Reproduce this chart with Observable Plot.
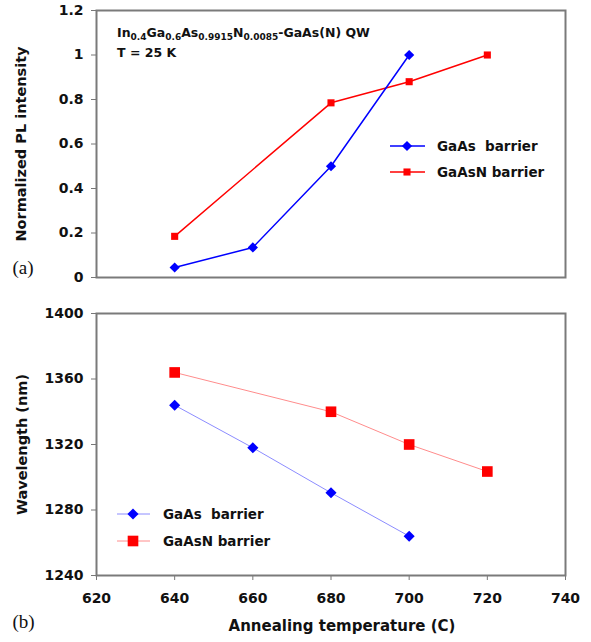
<!DOCTYPE html>
<html><head><meta charset="utf-8">
<script src="https://cdn.jsdelivr.net/npm/d3@7"></script>
<script src="https://cdn.jsdelivr.net/npm/@observablehq/plot@0.6"></script>
<style>body{margin:0;background:#fff;} #chart svg{display:block;}</style>
</head><body><div id="chart"></div>
<script>
// ---- data ----
const gaasTemp = [640, 660, 680, 700];
const gaasIntensity = [0.045, 0.135, 0.50, 1.0];
const gaasWavelength = [1344, 1318, 1290.5, 1264];
const gaasnTemp = [640, 680, 700, 720];
const gaasnIntensity = [0.185, 0.785, 0.88, 1.0];
const gaasnWavelength = [1364, 1340, 1320, 1303.5];
const xTicks = [620, 640, 660, 680, 700, 720, 740];
const intensityTicks = [0, 0.2, 0.4, 0.6, 0.8, 1, 1.2];
const wavelengthTicks = [1240, 1280, 1320, 1360, 1400];
const seriesNames = ["GaAs  barrier", "GaAsN barrier"];

const gaasTop = gaasTemp.map((t, i) => ({t, v: gaasIntensity[i]}));
const gaasnTop = gaasnTemp.map((t, i) => ({t, v: gaasnIntensity[i]}));
const gaasBot = gaasTemp.map((t, i) => ({t, v: gaasWavelength[i]}));
const gaasnBot = gaasnTemp.map((t, i) => ({t, v: gaasnWavelength[i]}));

const BLUE = "#0000ff", RED = "#ff0000";
const FONT = "DejaVu Sans";
const style = {fontFamily: FONT, fontWeight: "bold", fontSize: "14px", color: "#111", background: "#fff"};

const topPlot = Plot.plot({
  width: 591, height: 290,
  marginLeft: 96, marginRight: 26, marginTop: 10, marginBottom: 13,
  style,
  x: {domain: [620, 740], axis: null},
  y: {domain: [0, 1.2], axis: null},
  marks: [
    Plot.axisY({ticks: intensityTicks, tickSize: 5, tickPadding: 8, label: null, tickFormat: d => String(d), stroke: "#777"}),
    Plot.frame({stroke: "#7a7a7a", strokeWidth: 2}),
    Plot.line(gaasnTop, {x: "t", y: "v", stroke: RED, strokeWidth: 1.5}),
    Plot.line(gaasTop, {x: "t", y: "v", stroke: BLUE, strokeWidth: 1.5}),
    Plot.dot(gaasnTop, {x: "t", y: "v", symbol: "square", r: 4, fill: RED}),
    Plot.dot(gaasTop, {x: "t", y: "v", symbol: "diamond2", r: 4.6, fill: BLUE}),
    Plot.text(["Normalized PL intensity"], {text: d => d, frameAnchor: "left", textAnchor: "middle", dx: -75, rotate: -90, fontSize: 14.5}),
    Plot.text(["(a)"], {text: d => d, frameAnchor: "bottom-left", dx: -84, dy: -4, textAnchor: "start", fontFamily: "Liberation Serif", fontWeight: "normal", fontSize: 19})
  ]
});

const bottomPlot = Plot.plot({
  width: 591, height: 352,
  marginLeft: 96, marginRight: 26, marginTop: 23, marginBottom: 67,
  style,
  x: {domain: [620, 740], axis: null},
  y: {domain: [1240, 1400], axis: null},
  marks: [
    Plot.axisX({ticks: xTicks, tickSize: 5, tickPadding: 13, label: null, tickFormat: d => String(d), stroke: "#777"}),
    Plot.axisY({ticks: wavelengthTicks, tickSize: 5, tickPadding: 8, label: null, tickFormat: d => String(d), stroke: "#777"}),
    Plot.frame({stroke: "#7a7a7a", strokeWidth: 2}),
    Plot.line(gaasnBot, {x: "t", y: "v", stroke: "#ff8c8c", strokeWidth: 1}),
    Plot.line(gaasBot, {x: "t", y: "v", stroke: "#8c8cff", strokeWidth: 1}),
    Plot.dot(gaasnBot, {x: "t", y: "v", symbol: "square", r: 6, fill: RED}),
    Plot.dot(gaasBot, {x: "t", y: "v", symbol: "diamond2", r: 5, fill: BLUE}),
    Plot.text(["Wavelength (nm)"], {text: d => d, frameAnchor: "left", textAnchor: "middle", dx: -74, rotate: -90, fontSize: 14.5}),
    Plot.text(["Annealing temperature (C)"], {text: d => d, frameAnchor: "bottom", textAnchor: "middle", dx: 11, dy: 55, fontSize: 15}),
    Plot.text(["(b)"], {text: d => d, frameAnchor: "bottom-left", dx: -84, dy: 52, textAnchor: "start", fontFamily: "Liberation Serif", fontWeight: "normal", fontSize: 19})
  ]
});

// annotation with subscripts
{
  const svg = d3.select(topPlot);
  const t = svg.append("text").attr("x", 117).attr("y", 37).attr("text-anchor", "start")
    .attr("font-family", FONT).attr("font-weight", "bold").attr("font-size", 12.5).attr("fill", "#111");
  const parts = [["In", 0], ["0.4", 1], ["Ga", 0], ["0.6", 1], ["As", 0], ["0.9915", 1], ["N", 0], ["0.0085", 1], ["-GaAs(N) QW", 0]];
  parts.forEach(([s, sub]) => {
    const ts = t.append("tspan").text(s);
    if (sub) ts.attr("font-size", 9).attr("baseline-shift", "-30%");
  });
  svg.append("text").attr("x", 117).attr("y", 57).attr("text-anchor", "start")
    .attr("font-family", FONT).attr("font-weight", "bold").attr("font-size", 12.5).attr("fill", "#111")
    .text("T = 25 K");
}

function legend(svgNode, x0, x1, xm, xt, ys, lineColors, lineWidth, sizes) {
  const svg = d3.select(svgNode);
  const symbols = [d3.symbolDiamond2, d3.symbolSquare];
  const fills = [BLUE, RED];
  seriesNames.forEach((name, i) => {
    const y = ys[i];
    svg.append("line").attr("x1", x0).attr("x2", x1).attr("y1", y).attr("y2", y)
      .attr("stroke", lineColors[i]).attr("stroke-width", lineWidth);
    svg.append("path").attr("d", d3.symbol(symbols[i], sizes[i])())
      .attr("transform", `translate(${xm},${y})`).attr("fill", fills[i]);
    svg.append("text").attr("x", xt).attr("y", y).attr("dy", "0.36em").attr("text-anchor", "start")
      .attr("font-family", FONT).attr("font-weight", "bold").attr("font-size", 13.5)
      .attr("fill", "#111").style("white-space", "pre").text(name);
  });
}
legend(topPlot, 390, 425, 407, 437, [146, 172], [BLUE, RED], 1.5, [Math.PI * 4.6 * 4.6, Math.PI * 4 * 4]);
legend(bottomPlot, 117, 150, 133, 163, [514 - 290, 541 - 290], ["#8c8cff", "#ff8c8c"], 1, [Math.PI * 5 * 5, Math.PI * 6 * 6]);

document.getElementById("chart").append(topPlot, bottomPlot);
</script>
</body></html>
